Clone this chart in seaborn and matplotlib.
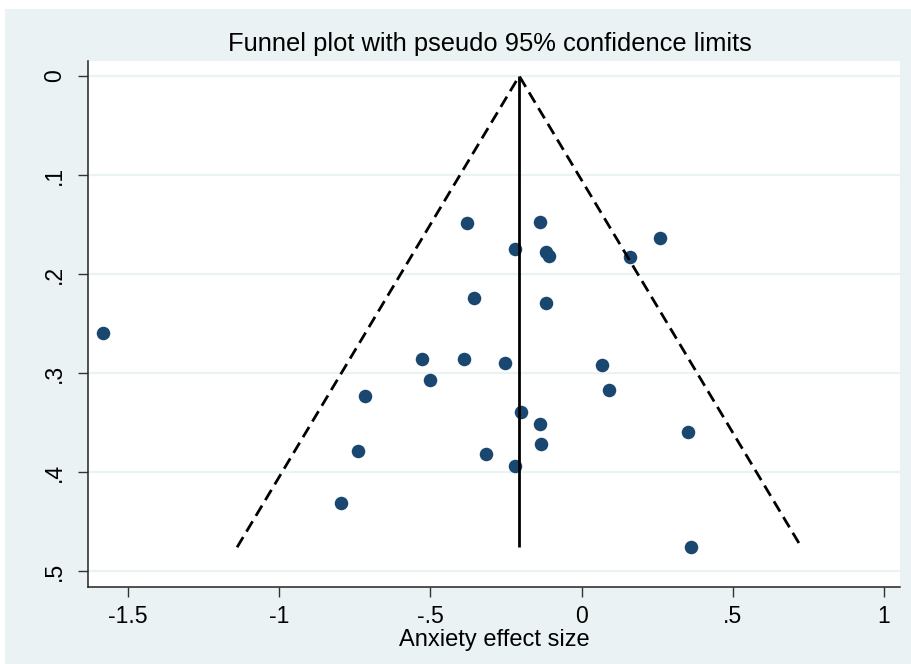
import matplotlib
matplotlib.use("Agg")
import matplotlib.pyplot as plt
import matplotlib.patches as mpatches
import numpy as np
import pandas as pd
import seaborn as sns

# Study-level effect sizes and their standard errors
effect_size = [-1.584, -0.380, -0.139, 0.261, -0.220, -0.118, -0.109, 0.159,
               -0.357, -0.116, -0.529, -0.390, -0.254, 0.067, -0.502, 0.091,
               -0.717, -0.199, -0.139, 0.351, -0.134, -0.739, -0.315, -0.219,
               -0.794, 0.362]
std_error = [0.2596, 0.1488, 0.1478, 0.1640, 0.1747, 0.1782, 0.1815, 0.1825,
             0.2245, 0.2290, 0.2855, 0.2859, 0.2899, 0.2916, 0.3074, 0.3174,
             0.3229, 0.3397, 0.3515, 0.3593, 0.3720, 0.3788, 0.3818, 0.3943,
             0.4313, 0.4761]
pooled_effect = -0.206

x_ticks = [-1.5, -1, -0.5, 0, 0.5, 1]
x_tick_labels = ["-1.5", "-1", "-.5", "0", ".5", "1"]
y_ticks = [0, 0.1, 0.2, 0.3, 0.4, 0.5]
y_tick_labels = ["0", ".1", ".2", ".3", ".4", ".5"]

title_text = "Funnel plot with pseudo 95% confidence limits"
x_label = "Anxiety effect size"

df = pd.DataFrame({"effect": effect_size, "se": std_error})

sns.set_theme(style="white")
plt.rcParams["font.family"] = ["Liberation Sans", "DejaVu Sans"]

bg = "#EAF2F3"
navy = "#1A476F"

fig = plt.figure(figsize=(9.12, 6.64), dpi=100, facecolor="white")
outer = mpatches.Rectangle((5 / 912, 0), 1.0, (664 - 9) / 664,
                           transform=fig.transFigure,
                           facecolor=bg, edgecolor="none", zorder=-10)
fig.add_artist(outer)
ax = fig.add_axes([88 / 912, 1 - 587 / 664, (900 - 88) / 912, (587 - 61) / 664])
ax.set_zorder(1)
ax.set_facecolor("white")

# horizontal grid at the y ticks
for yv in y_ticks:
    ax.axhline(yv, color=bg, lw=1.6, zorder=1)

sns.scatterplot(data=df, x="effect", y="se", ax=ax, s=95, color=navy,
                edgecolor=navy, linewidth=0, zorder=3, legend=False)

# pseudo 95% confidence limits around the pooled estimate
se_max = max(std_error)
ax.plot([pooled_effect, pooled_effect], [0, se_max], color="black", lw=2.0,
        zorder=4, solid_capstyle="butt")
ax.plot([pooled_effect - 1.96 * se_max, pooled_effect, pooled_effect + 1.96 * se_max],
        [se_max, 0, se_max], color="black", lw=2.0, dashes=(4.3, 2.3), zorder=4)

ax.set_xlim(-1.632, 1.053)
ax.set_ylim(0.5162, -0.0152)

ax.set_xticks(x_ticks)
ax.set_xticklabels(x_tick_labels)
ax.set_yticks(y_ticks)
ax.set_yticklabels(y_tick_labels, rotation=90, va="center")
ax.tick_params(axis="both", which="major", length=7, width=1.0, color="#333333",
               labelsize=16.6, labelcolor="black", direction="out", pad=6,
               bottom=True, left=True)
ax.tick_params(axis="y", pad=9)

for side in ["top", "right"]:
    ax.spines[side].set_visible(False)
for side in ["left", "bottom"]:
    ax.spines[side].set_color("#222222")
    ax.spines[side].set_linewidth(1.1)

ax.set_xlabel(x_label, fontsize=17, color="black", labelpad=1)
ax.set_ylabel("")
fig.text(489.5 / 912, 1 - 44 / 664, title_text, ha="center", va="center",
         fontsize=18.4, color="black")

fig.savefig("out.png", dpi=100, facecolor="white")
